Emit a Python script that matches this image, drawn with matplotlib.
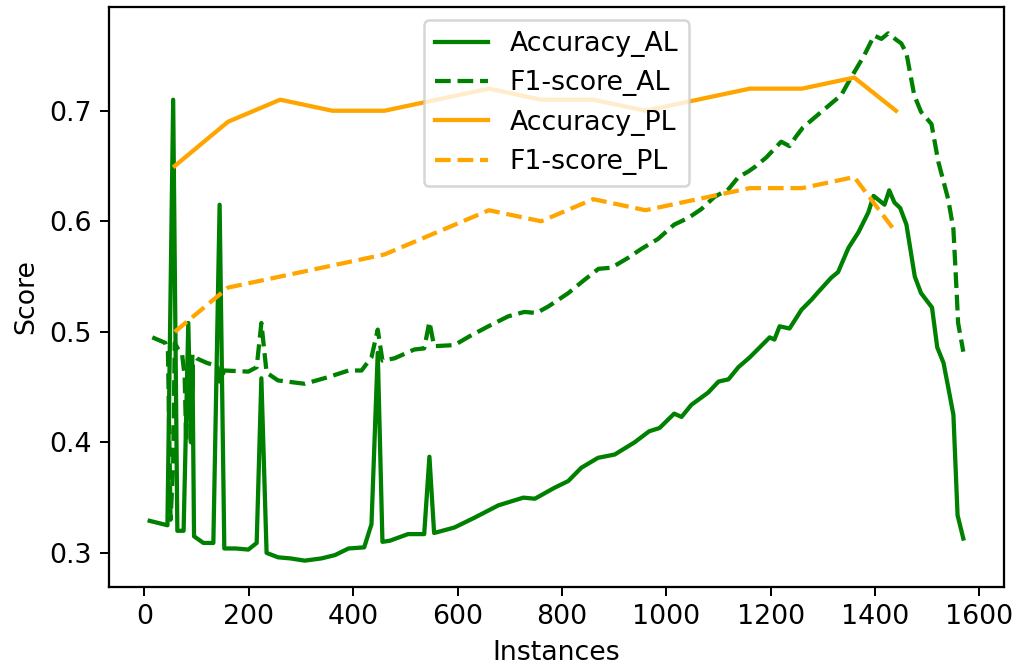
import matplotlib
matplotlib.use("Agg")
import matplotlib.pyplot as plt

# active learning curves
al_x = [10, 44, 55, 63, 75, 84, 89, 92, 95, 113, 132, 144, 153, 175, 199, 215, 224, 234,
        256, 280, 307, 339, 365, 391, 421, 435, 447, 456, 470, 505, 536, 546, 555, 594,
        633, 678, 726, 748, 786, 812, 837, 869, 901, 939, 967, 987, 1015, 1029, 1048,
        1080, 1100, 1119, 1138, 1160, 1179, 1198, 1207, 1217, 1236, 1259, 1278, 1291,
        1316, 1329, 1349, 1368, 1387, 1397, 1418, 1427, 1437, 1448, 1460, 1476, 1488,
        1509, 1519, 1531, 1540, 1550, 1558, 1569]
acc_al = [0.329, 0.325, 0.710, 0.320, 0.320, 0.508, 0.400, 0.470, 0.315, 0.309, 0.309,
          0.615, 0.304, 0.304, 0.303, 0.309, 0.458, 0.300, 0.296, 0.295, 0.293, 0.295,
          0.298, 0.304, 0.305, 0.326, 0.481, 0.310, 0.311, 0.317, 0.317, 0.387, 0.318,
          0.323, 0.332, 0.343, 0.350, 0.349, 0.359, 0.365, 0.377, 0.386, 0.389, 0.400,
          0.410, 0.413, 0.426, 0.423, 0.434, 0.445, 0.455, 0.457, 0.468, 0.477, 0.486,
          0.495, 0.493, 0.505, 0.503, 0.520, 0.529, 0.536, 0.549, 0.554, 0.576, 0.590,
          0.608, 0.623, 0.615, 0.628, 0.617, 0.612, 0.597, 0.550, 0.535, 0.522, 0.486,
          0.472, 0.450, 0.425, 0.334, 0.313]

f1_x = [15, 40, 45, 50, 55, 58, 65, 72, 77, 80, 84, 88, 92, 100, 119, 132, 140, 144, 153,
        199, 215, 224, 234, 256, 307, 352, 391, 416, 435, 447, 456, 479, 517, 536, 546,
        555, 594, 623, 659, 697, 728, 751, 774, 812, 843, 870, 895, 927, 952, 984, 1015,
        1042, 1067, 1092, 1119, 1138, 1157, 1172, 1192, 1220, 1236, 1249, 1262, 1297,
        1322, 1335, 1349, 1364, 1379, 1398, 1412, 1425, 1441, 1450, 1460, 1475, 1488,
        1508, 1521, 1540, 1550, 1556, 1559, 1569]
f1_al = [0.495, 0.490, 0.482, 0.330, 0.380, 0.490, 0.484, 0.480, 0.460, 0.400, 0.470,
         0.430, 0.480, 0.476, 0.472, 0.470, 0.468, 0.455, 0.465, 0.464, 0.468, 0.508,
         0.463, 0.456, 0.453, 0.459, 0.465, 0.465, 0.477, 0.502, 0.474, 0.476, 0.484,
         0.485, 0.509, 0.487, 0.488, 0.496, 0.505, 0.514, 0.518, 0.517, 0.523, 0.535,
         0.547, 0.557, 0.558, 0.567, 0.575, 0.584, 0.597, 0.603, 0.611, 0.622, 0.629,
         0.640, 0.645, 0.650, 0.658, 0.672, 0.668, 0.677, 0.685, 0.699, 0.709, 0.714,
         0.726, 0.738, 0.750, 0.768, 0.765, 0.770, 0.764, 0.761, 0.752, 0.714, 0.699,
         0.688, 0.654, 0.620, 0.593, 0.538, 0.508, 0.482]

# passive learning curves
pl_x = [58, 160, 260, 360, 460, 560, 660, 760, 860, 960, 1060, 1160, 1260, 1360, 1440]
acc_pl = [0.65, 0.69, 0.71, 0.70, 0.70, 0.71, 0.72, 0.71, 0.71, 0.70, 0.71, 0.72, 0.72, 0.73, 0.70]
f1_pl = [0.50, 0.54, 0.55, 0.56, 0.57, 0.59, 0.61, 0.60, 0.62, 0.61, 0.62, 0.63, 0.63, 0.64, 0.59]

plt.rcParams["font.size"] = 10.7
plt.rcParams["lines.linewidth"] = 1.7
plt.rcParams["axes.linewidth"] = 0.9

fig = plt.figure(figsize=(1016 / 180, 668 / 180), dpi=180)
ax = fig.add_axes([109 / 1016, 1 - 587 / 668, (1004 - 109) / 1016, (587 - 7) / 668])

ax.plot(al_x, acc_al, color="green", linestyle="-", label="Accuracy_AL")
ax.plot(f1_x, f1_al, color="green", linestyle="--", label="F1-score_AL")
ax.plot(pl_x, acc_pl, color="orange", linestyle="-", label="Accuracy_PL")
ax.plot(pl_x, f1_pl, color="orange", linestyle="--", label="F1-score_PL")

ax.set_xlabel("Instances")
ax.set_ylabel("Score")
ax.legend(loc="upper center")

fig.savefig("out.png", dpi=180)
